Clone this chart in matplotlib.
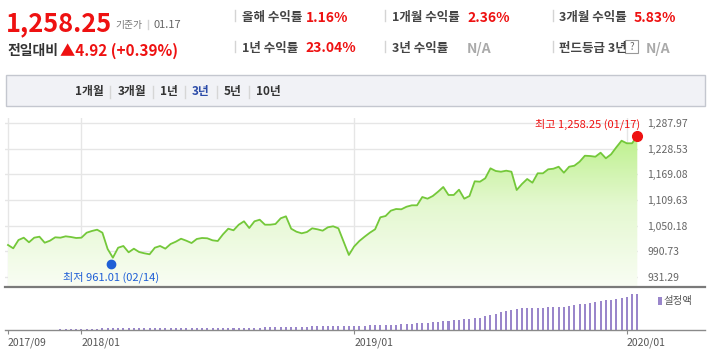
import matplotlib
matplotlib.use('Agg')
import matplotlib.pyplot as plt
import matplotlib.dates as mdates
from matplotlib.patches import Rectangle
from matplotlib.lines import Line2D
from matplotlib.colors import LinearSegmentedColormap
import numpy as np
import pandas as pd

plt.rcParams['font.family'] = ['Noto Sans CJK KR', 'DejaVu Sans']

# ---------------- data ----------------
end_date = '2020-01-17'
nav_values = [
    1005.0, 997.3, 1016.6, 1022.0, 1011.3, 1022.0, 1024.3, 1010.3, 1015.0, 1022.9,
    1022.0, 1025.2, 1023.6, 1021.3, 1022.0, 1033.6, 1037.6, 1040.6, 1033.6, 995.7,
    975.5, 998.7, 1002.7, 988.0, 996.4, 988.7, 985.7, 983.4, 998.7, 1002.7, 996.5,
    1007.3, 1012.7, 1019.6, 1015.0, 1009.6, 1019.0, 1021.3, 1020.6, 1015.9, 1014.3,
    1029.9, 1042.9, 1039.2, 1052.2, 1060.1, 1044.5, 1060.1, 1063.8, 1052.2, 1052.2,
    1053.8, 1067.1, 1071.7, 1042.9, 1035.9, 1032.2, 1035.2, 1043.8, 1041.5, 1038.3,
    1046.2, 1048.5, 1043.8, 1012.7, 981.8, 1001.5, 1014.3,
    1024.3, 1033.6, 1041.5, 1069.4, 1072.4, 1084.8, 1088.7, 1088.0, 1094.0, 1097.3,
    1097.3, 1116.6, 1112.7, 1118.9, 1128.9, 1139.9, 1121.3, 1121.3, 1133.6, 1112.7,
    1118.9, 1153.1, 1152.2, 1160.1, 1183.3, 1177.1,
    1175.4, 1177.8, 1175.4, 1132.9, 1146.8, 1158.5, 1149.9, 1171.7, 1171.7, 1181.0,
    1182.4, 1187.0, 1173.1, 1187.0, 1189.4, 1198.7, 1212.6, 1211.9, 1210.3, 1219.6,
    1206.6, 1215.9, 1232.2, 1247.5, 1241.5, 1241.5, 1258.25,
]
fund_size = (
    [0] * 10 + [1] * 8 + [2.3] * 31 + [3.3] * 9 + [4.3] * 11 + [5] * 6 + [6] * 3 +
    [7] * 3 + [8.3] * 2 + [9] * 2 + [10.3] * 2 + [11.3] * 2 + [12] * 2 +
    [14, 15, 16.3, 18.3, 19.3, 20.3, 21] + [22] * 5 + [23] * 4 +
    [24, 25, 26, 26.3, 27.3, 28.3, 29.3, 30, 30, 31, 32.3, 33.3, 35.7, 35.7]
)
y_ticks = [931.29, 990.73, 1050.18, 1109.63, 1169.08, 1228.53, 1287.97]
x_tick_months = ['2017-09', '2018-01', '2019-01', '2020-01']
x_tick_labels = ['2017/09', '2018/01', '2019/01', '2020/01']
min_date, min_value = '2018-02-14', 961.01
max_date, max_value = '2020-01-17', 1258.25

price_text = '1,258.25'
base_date_text = '01.17'
change_text = '▲4.92 (+0.39%)'
stats = [  # (label, value, column, row, is_na)
    ('올해 수익률', '1.16%', 0, 0, False),
    ('1개월 수익률', '2.36%', 1, 0, False),
    ('3개월 수익률', '5.83%', 2, 0, False),
    ('1년 수익률', '23.04%', 0, 1, False),
    ('3년 수익률', 'N/A', 1, 1, True),
    ('펀드등급 3년', 'N/A', 2, 1, True),
]
tabs = ['1개월', '3개월', '1년', '3년', '5년', '10년']
active_tab = '3년'

# ---------------- figure ----------------
W, H = 710, 359
fig = plt.figure(figsize=(W / 100, H / 100), dpi=100)
fig.patch.set_facecolor('white')


def T(x, y, s, size, color, weight='normal', ha='left', va='baseline', **kw):
    return fig.text(x / W, 1 - y / H, s, fontsize=size, color=color,
                    fontweight=weight, ha=ha, va=va, **kw)


def vline(x, y0, y1, color='#d4d4d4', lw=1):
    fig.add_artist(Line2D([x / W, x / W], [1 - y0 / H, 1 - y1 / H],
                          color=color, lw=lw, transform=fig.transFigure))


def hline(x0, x1, y, color, lw):
    fig.add_artist(Line2D([x0 / W, x1 / W], [1 - y / H, 1 - y / H],
                          color=color, lw=lw, transform=fig.transFigure))


RED = '#ee1111'

# header left
T(6, 31, price_text, 18.3, RED, 'bold')
T(115, 28, '기준가', 7, '#777777')
vline(148, 20, 29)
T(153, 28.5, base_date_text, 8, '#666666')
T(7, 55, '전일대비', 10, '#333333', 'bold')
T(60, 56, change_text, 11, RED, 'bold')

# header right stats
col_sep = [235, 385, 553]
col_label = [242, 392, 559]
col_value = [[306, 467, 634], [305, 467, 646]]
row_base = [21, 52]
for label, val, c, r, na in stats:
    yb = row_base[r]
    vline(col_sep[c], yb - 11, yb)
    T(col_label[c], yb, label, 9, '#444444', 'bold')
    T(col_value[r][c], yb + 0.5, val, 10, '#aaaaaa' if na else RED, 'bold')
# question box
fig.add_artist(Rectangle((625 / W, 1 - 53 / H), 13 / W, 13 / H, transform=fig.transFigure,
                         fc='white', ec='#999999', lw=0.8))
T(631.5, 46.5, '?', 7, '#666666', ha='center', va='center')

# tab bar
fig.add_artist(Rectangle((5.5 / W, 1 - 106 / H), 699.5 / W, 30.5 / H,
                         transform=fig.transFigure, fc='#f1f2f6', ec='#c4c7cf', lw=1))
tab_x = [75, 118, 160, 192, 224, 256]
tab_sep = [110, 153, 185, 217, 249]
for t, x in zip(tabs, tab_x):
    T(x, 91.5, t, 8.5, '#2b4ba8' if t == active_tab else '#333333', 'bold', va='center')
for x in tab_sep:
    vline(x, 86, 98, color='#d6d6d6')

# ---------------- main chart ----------------
dates = pd.date_range(end=end_date, periods=len(nav_values), freq='7D')
xd = mdates.date2num(dates.to_pydatetime())
px_per_day = 5.24 / 7
x_left = xd[0] - 3 / px_per_day
x_right = xd[-1] + 0.7 / px_per_day

ax = fig.add_axes([5 / W, (H - 287) / H, 633 / W, (287 - 118) / H])
ylo = 931.29 - (287 - 276.7) * 2.325
yhi = 1287.97 + (123.3 - 118) * 2.325
ax.set_xlim(x_left, x_right)
ax.set_ylim(ylo, yhi)
for s in ax.spines.values():
    s.set_visible(False)
ax.set_facecolor('none')

tick_x = []
for m in x_tick_months:
    sel = [d for d, ts in zip(xd, dates) if ts.strftime('%Y-%m') == m]
    tick_x.append(sel[0])

for v in y_ticks:
    ax.axhline(v, color='#e6e6e6', lw=1, zorder=1)
for x in tick_x:
    ax.axvline(x, color='#e6e6e6', lw=1, zorder=1)

# gradient fill under the line
poly = ax.fill_between(xd, nav_values, ylo, color='none', lw=0)
cmap = LinearSegmentedColormap.from_list('g', ['#f9fdf4', '#e4f8d0', '#b6ef80'])
grad = np.linspace(0, 1, 256).reshape(-1, 1)
im = ax.imshow(grad, extent=[x_left, x_right, ylo, 1287.97], origin='lower',
               aspect='auto', cmap=cmap, zorder=2)
im.set_clip_path(poly.get_paths()[0], transform=ax.transData)
ax.set_xlim(x_left, x_right)
ax.set_ylim(ylo, yhi)
ax.plot(xd, nav_values, color='#74c83a', lw=1.3, zorder=3)

# min / max markers
mnx = mdates.date2num(pd.Timestamp(min_date).to_pydatetime())
mxx = mdates.date2num(pd.Timestamp(max_date).to_pydatetime())
ax.plot([mnx], [min_value], 'o', color='#1f5fd6', ms=6, zorder=4, clip_on=False)
ax.plot([mxx], [max_value], 'o', color='#ee1111', ms=7, zorder=4, clip_on=False)
ax.annotate(f'최저 {min_value:,.2f} ({pd.Timestamp(min_date):%m/%d})', (mnx, min_value),
            xytext=(0, -13), textcoords='offset pixels', ha='center', va='center',
            fontsize=8, color='#1f5fd6', zorder=5)
ax.annotate(f'최고 {max_value:,.2f} ({pd.Timestamp(max_date):%m/%d})', (mxx, max_value),
            xytext=(3, 12), textcoords='offset pixels', ha='right', va='center',
            fontsize=8, color='#ee1111', zorder=5, annotation_clip=False)

ax.set_xticks([])
ax.yaxis.tick_right()
ax.set_yticks(y_ticks)
ax.set_yticklabels([f'{v:,.2f}' for v in y_ticks])
ax.tick_params(axis='y', length=0, pad=6.5, labelsize=7.5, labelcolor='#666666')

hline(5, 705, 287, '#7a7a7a', 1.6)

# ---------------- fund size bars ----------------
ax2 = fig.add_axes([5 / W, (H - 330) / H, 633 / W, (330 - 288) / H])
ax2.bar(xd, fund_size, width=2.7, color='#9a86cb', zorder=2)
ax2.set_xlim(x_left, x_right)
ax2.set_ylim(0, 42)
for s in ax2.spines.values():
    s.set_visible(False)
ax2.set_facecolor('none')
ax2.set_yticks([])
ax2.set_xticks(tick_x)
ax2.set_xticklabels(x_tick_labels)
for lab in ax2.get_xticklabels():
    lab.set_horizontalalignment('left')
ax2.tick_params(axis='x', length=3, width=0.8, color='#888888', pad=2.5,
                labelsize=7.5, labelcolor='#555555')
hline(5, 705, 330, '#8a8a8a', 1)

# legend
fig.add_artist(Rectangle((658 / W, 1 - 305 / H), 3.5 / W, 8 / H, transform=fig.transFigure,
                         fc='#9a86cb', ec='none'))
T(663, 301, '설정액', 7.5, '#555555', va='center')

fig.savefig('out.png', dpi=100)
